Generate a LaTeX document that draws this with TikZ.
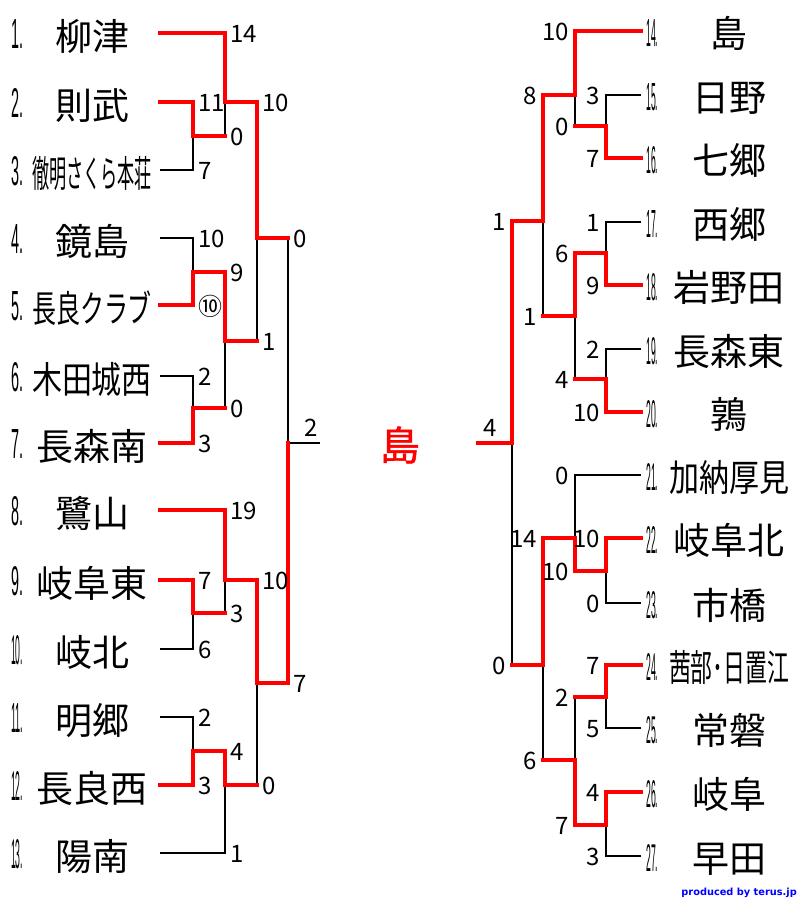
\documentclass[tikz,border=0pt]{standalone}
\usepackage{fontspec}
\usepackage{graphicx}
\setmainfont{Noto Sans CJK JP}
\newfontfamily\cjk{Noto Sans CJK JP}
\newfontfamily\shimafont[FakeBold=1.2]{Noto Sans CJK JP}
\newfontfamily\numfont{Liberation Sans}
\newfontfamily\credfont{DejaVu Sans}

\newsavebox\nmbox
\newcommand\tn[1]{\sbox\nmbox{\cjk\fontsize{37}{40}\selectfont #1}%
  \ifdim\wd\nmbox>120pt\resizebox{120pt}{\ht\nmbox}{\usebox\nmbox}\else\usebox\nmbox\fi}
\newcommand\lnum[1]{\resizebox{12pt}{29pt}{\numfont #1}}
\newcommand\rnum[1]{\resizebox{12pt}{27pt}{\numfont #1}}
\newcommand\scfont{\cjk\fontsize{24}{27}\selectfont}

\newcommand\teamL[3]{\coordinate (L#1) at (160,#2);
  \node[numst] (nL#1) at (11,#2+15) {\lnum{#1.}};
  \node[namest] (tL#1) at (92,#2+17) {\tn{#3}};}
\newcommand\teamR[3]{\coordinate (R#1) at (641,#2);
  \node[numst] (nR#1) at (646,#2+15) {\rnum{#1.}};
  \node[namest] (tR#1) at (729,#2+16) {\tn{#3}};}

\tikzset{
  win/.style={draw=red, line width=4pt, line cap=rect, line join=miter},
  lose/.style={draw=black, line width=1.4pt},
  numst/.style={anchor=base west, inner sep=0pt},
  namest/.style={anchor=base, inner sep=0pt},
  scL/.style={anchor=west, inner sep=0pt, xshift=5pt, yshift=-1pt, font=\scfont},
  scR/.style={anchor=east, inner sep=0pt, xshift=-6pt, yshift=-1pt, font=\scfont},
  scF/.style={inner sep=0pt, font=\scfont}
}

\begin{document}
\begin{tikzpicture}[x=1pt, y=-1pt]
\fill[white] (0,0) rectangle (800,900);
\useasboundingbox (0,0) rectangle (800,900);

% ---- left teams
\teamL{1}{33}{柳津}
\teamL{2}{102}{則武}
\teamL{3}{170}{徹明さくら本荘}
\teamL{4}{238}{鏡島}
\teamL{5}{305}{長良クラブ}
\teamL{6}{376}{木田城西}
\teamL{7}{443}{長森南}
\teamL{8}{510}{鷺山}
\teamL{9}{580}{岐阜東}
\teamL{10}{649}{岐北}
\teamL{11}{717}{明郷}
\teamL{12}{785}{長良西}
\teamL{13}{853}{陽南}

% ---- right teams
\teamR{14}{31}{島}
\teamR{15}{95}{日野}
\teamR{16}{158}{七郷}
\teamR{17}{222}{西郷}
\teamR{18}{285}{岩野田}
\teamR{19}{349}{長森東}
\teamR{20}{412}{鶉}
\teamR{21}{475}{加納厚見}
\teamR{22}{538}{岐阜北}
\teamR{23}{603}{市橋}
\teamR{24}{665}{茜部･日置江}
\teamR{25}{728}{常磐}
\teamR{26}{792}{岐阜}
\teamR{27}{856}{早田}

% ---- left match points
\coordinate (a1) at (193,136);
\coordinate (a2) at (225,102);
\coordinate (a3) at (193,272);
\coordinate (a4) at (193,408);
\coordinate (a5) at (225,341);
\coordinate (a6) at (257,238);
\coordinate (a7) at (193,613);
\coordinate (a8) at (225,580);
\coordinate (a9) at (193,751);
\coordinate (a10) at (225,785);
\coordinate (a11) at (257,683);
\coordinate (a12) at (288,443);
\coordinate (LF) at (320,443);

% ---- right match points
\coordinate (b1) at (606,126);
\coordinate (b2) at (575,95);
\coordinate (b3) at (606,253);
\coordinate (b4) at (606,379);
\coordinate (b5) at (575,316);
\coordinate (b6) at (543,221);
\coordinate (b7) at (606,571);
\coordinate (b8) at (575,538);
\coordinate (b9) at (606,697);
\coordinate (b10) at (606,825);
\coordinate (b11) at (575,760);
\coordinate (b12) at (543,665);
\coordinate (b13) at (512,443);
\coordinate (RF) at (478,443);

% ---- black (losing) lines, left
\draw[lose] (L3) -| (a1);
\draw[lose] (a1 -| a2) -- (a2);
\draw[lose] (L4) -| (a3);
\draw[lose] (L6) -| (a4);
\draw[lose] (a4 -| a5) -- (a5);
\draw[lose] (a5 -| a6) -- (a6);
\draw[lose] (L10) -| (a7);
\draw[lose] (a7 -| a8) -- (a8);
\draw[lose] (L11) -| (a9);
\draw[lose] (L13) -| (a10);
\draw[lose] (a10 -| a11) -- (a11);
\draw[lose] (a6 -| a12) -- (a12) -- (LF);

% ---- black (losing) lines, right
\draw[lose] (R15) -| (b1);
\draw[lose] (b1 -| b2) -- (b2);
\draw[lose] (R17) -| (b3);
\draw[lose] (R19) -| (b4);
\draw[lose] (b4 -| b5) -- (b5);
\draw[lose] (b5 -| b6) -- (b6);
\draw[lose] (R23) -| (b7);
\draw[lose] (R21) -| (b8);
\draw[lose] (R25) -| (b9);
\draw[lose] (R27) -| (b10);
\draw[lose] (b9 -| b11) -- (b11);
\draw[lose] (b11 -| b12) -- (b12);
\draw[lose] (b12 -| b13) -- (b13);

% ---- red (winning) lines, left
\draw[win] (L2) -| (a1) -- (a1 -| a2);
\draw[win] (L1) -| (a2) -- (a2 -| a6);
\draw[win] (L5) -| (a3) -- (a3 -| a5);
\draw[win] (L7) -| (a4) -- (a4 -| a5);
\draw[win] (a3 -| a5) -- (a5) -- (a5 -| a6);
\draw[win] (a2 -| a6) -- (a6) -- (a6 -| a12);
\draw[win] (L9) -| (a7) -- (a7 -| a8);
\draw[win] (L8) -| (a8) -- (a8 -| a11);
\draw[win] (L12) -| (a9) -- (a9 -| a10);
\draw[win] (a9 -| a10) -- (a10) -- (a10 -| a11);
\draw[win] (a8 -| a11) -- (a11) -- (a11 -| a12);
\draw[win] (a11 -| a12) -- (a12);

% ---- red (winning) lines, right
\draw[win] (R16) -| (b1) -- (b1 -| b2);
\draw[win] (R14) -| (b2) -- (b2 -| b6);
\draw[win] (R18) -| (b3) -- (b3 -| b5);
\draw[win] (R20) -| (b4) -- (b4 -| b5);
\draw[win] (b3 -| b5) -- (b5) -- (b5 -| b6);
\draw[win] (b2 -| b6) -- (b6) -- (b6 -| b13);
\draw[win] (R22) -| (b7) -- (b7 -| b8);
\draw[win] (b7 -| b8) -- (b8) -- (b8 -| b12);
\draw[win] (R24) -| (b9) -- (b9 -| b11);
\draw[win] (R26) -| (b10) -- (b10 -| b11);
\draw[win] (b10 -| b11) -- (b11) -- (b11 -| b12);
\draw[win] (b8 -| b12) -- (b12) -- (b12 -| b13);
\draw[win] (b6 -| b13) -- (b13) -- (RF);

% ---- scores, left
\path (L2 -| a1) node[scL] (s1) {11};
\path (L3 -| a1) node[scL] (s2) {7};
\path (L1 -| a2) node[scL] (s3) {14};
\path (a1 -| a2) node[scL] (s4) {0};
\path (L4 -| a3) node[scL] (s5) {10};
\path (L5 -| a3) node[scL] (s6) {⑩};
\path (L6 -| a4) node[scL] (s7) {2};
\path (L7 -| a4) node[scL] (s8) {3};
\path (a3 -| a5) node[scL] (s9) {9};
\path (a4 -| a5) node[scL] (s10) {0};
\path (a2 -| a6) node[scL] (s11) {10};
\path (a5 -| a6) node[scL] (s12) {1};
\path (L9 -| a7) node[scL] (s13) {7};
\path (L10 -| a7) node[scL] (s14) {6};
\path (L8 -| a8) node[scL] (s15) {19};
\path (a7 -| a8) node[scL] (s16) {3};
\path (L11 -| a9) node[scL] (s17) {2};
\path (L12 -| a9) node[scL] (s18) {3};
\path (a9 -| a10) node[scL] (s19) {4};
\path (L13 -| a10) node[scL] (s20) {1};
\path (a8 -| a11) node[scL] (s21) {10};
\path (a10 -| a11) node[scL] (s22) {0};
\path (a6 -| a12) node[scL] (s23) {0};
\path (a11 -| a12) node[scL] (s24) {7};

% ---- scores, right
\path (R15 -| b1) node[scR] (r1) {3};
\path (R16 -| b1) node[scR] (r2) {7};
\path (R14 -| b2) node[scR] (r3) {10};
\path (b1 -| b2) node[scR] (r4) {0};
\path (R17 -| b3) node[scR] (r5) {1};
\path (R18 -| b3) node[scR] (r6) {9};
\path (R19 -| b4) node[scR] (r7) {2};
\path (R20 -| b4) node[scR] (r8) {10};
\path (b3 -| b5) node[scR] (r9) {6};
\path (b4 -| b5) node[scR] (r10) {4};
\path (b2 -| b6) node[scR] (r11) {8};
\path (b5 -| b6) node[scR] (r12) {1};
\path (R22 -| b7) node[scR] (r13) {10};
\path (R23 -| b7) node[scR] (r14) {0};
\path (R21 -| b8) node[scR] (r15) {0};
\path (b7 -| b8) node[scR] (r16) {10};
\path (R24 -| b9) node[scR] (r17) {7};
\path (R25 -| b9) node[scR] (r18) {5};
\path (R26 -| b10) node[scR] (r19) {4};
\path (R27 -| b10) node[scR] (r20) {3};
\path (b9 -| b11) node[scR] (r21) {2};
\path (b10 -| b11) node[scR] (r22) {7};
\path (b8 -| b12) node[scR] (r23) {14};
\path (b11 -| b12) node[scR] (r24) {6};
\path (b6 -| b13) node[scR] (r25) {1};
\path (b12 -| b13) node[scR] (r26) {0};

% ---- final
\node[scF] (fl) at (311,428) {2};
\node[scF] (fr) at (490,428) {4};
\node[inner sep=0pt, text=red, font=\shimafont\fontsize{40}{44}\selectfont] (champ) at (400,445) {島};

% ---- credit
\node[anchor=base east, inner sep=0pt, text=blue, font=\credfont\bfseries\fontsize{9.8}{11}\selectfont] (credit) at (797,895) {produced by terus.jp};
\end{tikzpicture}
\end{document}
